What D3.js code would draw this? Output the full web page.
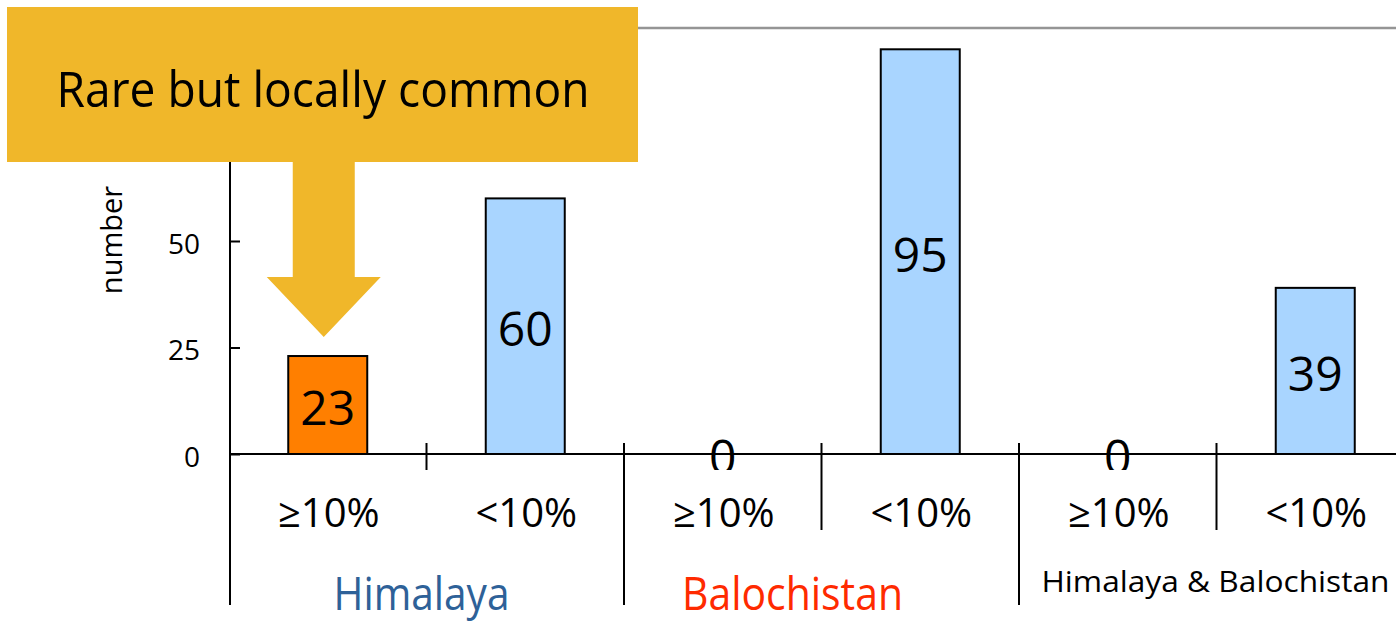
<!DOCTYPE html>
<html>
<head>
<meta charset="utf-8">
<script src="https://cdn.jsdelivr.net/npm/d3@7"></script>
<style>
  body { margin: 0; background: #fff; }
  text { font-family: "Open Sans", sans-serif; }
</style>
</head>
<body>
<div id="vis"></div>
<script>
// chart data
var groups  = ["Himalaya", "Balochistan", "Himalaya & Balochistan"];
var classes = ["≥10%", "<10%"];
var counts  = [23, 60, 0, 95, 0, 39];   // group x class, in order
var yTicks  = [0, 25, 50];              // 75 and 100 sit under the callout box
var yLabel  = "number";
var note    = "Rare but locally common";

var width = 1396, height = 622;

var svg = d3.select("#vis")
	.append("svg")
	.attr("width", width)
	.attr("height", height);

// one row per bar
var rows = [];
groups.forEach(function(g, gi) {
	classes.forEach(function(c, ci) {
		rows.push({group: g, cls: c, key: g + "|" + c, value: counts[gi * classes.length + ci], idx: rows.length});
	});
});

var x = d3.scaleBand()
	.domain(rows.map(function(d) { return d.key; }))
	.range([229, 1414])
	.paddingInner(0.6)
	.paddingOuter(0.3);

var y = d3.scaleLinear()
	.domain([0, 100])
	.range([454, 28]);

var colors = d3.scaleOrdinal()
	.domain(classes)
	.range(["#ff7f00", "#a9d5ff"]);

var x0 = x.range()[0], step = x.step();
var axisX = x0 + 1;

// top frame line (grey)
svg.append("line")
	.attr("x1", axisX).attr("x2", x.range()[1])
	.attr("y1", y(100)).attr("y2", y(100))
	.attr("stroke", "#959595")
	.attr("stroke-width", 2.5);

// bars
svg.append("g")
	.selectAll("rect")
	.data(rows.filter(function(d) { return d.value > 0; }))
	.enter()
	.append("rect")
	.attr("x", function(d) { return x(d.key); })
	.attr("y", function(d) { return y(d.value); })
	.attr("width", x.bandwidth())
	.attr("height", function(d) { return y(0) - y(d.value); })
	.attr("fill", function(d) { return colors(d.cls); })
	.attr("stroke", "#000")
	.attr("stroke-width", 2);

// value labels (clipped just under the axis, as in the original)
svg.append("clipPath").attr("id", "lblclip")
	.append("rect").attr("x", 0).attr("y", 0).attr("width", width).attr("height", 470);

svg.append("g")
	.attr("clip-path", "url(#lblclip)")
	.selectAll("text")
	.data(rows)
	.enter()
	.append("text")
	.attr("x", function(d) { return x(d.key) + x.bandwidth() / 2; })
	.attr("y", function(d) { return (y(d.value) + y(0)) / 2 + 20; })
	.attr("text-anchor", "middle")
	.style("font-size", "48px")
	.style("fill", "#000")
	.text(function(d) { return d.value; });

// y axis: inward ticks
var yAxis = svg.append("g")
	.attr("transform", "translate(" + axisX + ",0)")
	.call(d3.axisLeft(y).tickValues(yTicks).tickSize(-10).tickPadding(30));
yAxis.select(".domain").remove();
yAxis.selectAll(".tick line").attr("stroke", "#000").attr("stroke-width", 2);
yAxis.selectAll(".tick text")
	.attr("dy", null)
	.attr("y", 12)
	.style("font-family", "'Open Sans', sans-serif")
	.style("font-size", "28px")
	.style("fill", "#000");

svg.append("line")
	.attr("x1", axisX).attr("x2", axisX)
	.attr("y1", y(100)).attr("y2", 605)
	.attr("stroke", "#000").attr("stroke-width", 2);

// x axis line
svg.append("line")
	.attr("x1", axisX).attr("x2", x.range()[1])
	.attr("y1", y(0)).attr("y2", y(0))
	.attr("stroke", "#000").attr("stroke-width", 2);

// band boundaries: group separators run long, inner ticks shorter
var bounds = d3.range(1, rows.length);
svg.append("g")
	.selectAll("line")
	.data(bounds)
	.enter()
	.append("line")
	.attr("x1", function(i) { return x0 + i * step; })
	.attr("x2", function(i) { return x0 + i * step; })
	.attr("y1", y(0) - 11)
	.attr("y2", function(i) {
		if (i % classes.length == 0) return 605;
		return i == 1 ? 470 : 530;
	})
	.attr("stroke", "#000").attr("stroke-width", 2);

// class labels
svg.append("g")
	.selectAll("text")
	.data(rows)
	.enter()
	.append("text")
	.attr("x", function(d) { return x(d.key) + x.bandwidth() / 2 + 1; })
	.attr("y", 527)
	.attr("text-anchor", "middle")
	.style("font-size", "40px")
	.style("fill", "#000")
	.text(function(d) { return d.cls; });

// group labels
var groupStyle = [
	{fill: "#2e6198", size: 45, len: 176, dx: -5, y: 610},
	{fill: "#ff2a00", size: 45, len: 221, dx: -29, y: 610},
	{fill: "#000", size: 30, len: 348, dx: -1, y: 592}
];
svg.append("g")
	.selectAll("text")
	.data(groups)
	.enter()
	.append("text")
	.attr("x", function(d, i) { return x0 + (i + 0.5) * step * classes.length + groupStyle[i].dx; })
	.attr("y", function(d, i) { return groupStyle[i].y; })
	.attr("text-anchor", "middle")
	.attr("textLength", function(d, i) { return groupStyle[i].len; })
	.attr("lengthAdjust", "spacingAndGlyphs")
	.style("font-size", function(d, i) { return groupStyle[i].size + "px"; })
	.style("fill", function(d, i) { return groupStyle[i].fill; })
	.text(function(d) { return d; });

// y label
svg.append("text")
	.attr("transform", "translate(122,240) rotate(-90)")
	.attr("text-anchor", "middle")
	.style("font-size", "29px")
	.style("fill", "#000")
	.text(yLabel);

// callout box + arrow
var gold = "#f0b72a";
svg.append("rect")
	.attr("x", 7).attr("y", 7)
	.attr("width", 631).attr("height", 155)
	.attr("fill", gold);

svg.append("text")
	.attr("x", 323).attr("y", 107)
	.attr("text-anchor", "middle")
	.attr("textLength", 533)
	.attr("lengthAdjust", "spacingAndGlyphs")
	.style("font-size", "50px")
	.style("fill", "#000")
	.text(note);

var cx = x(rows[0].key) + x.bandwidth() / 2 - 4;
var arrowPts = [
	[cx - 31, 161], [cx + 31, 161], [cx + 31, 277], [cx + 57, 277],
	[cx, 337], [cx - 57, 277], [cx - 31, 277]
];
svg.append("path")
	.attr("d", d3.line()(arrowPts) + "Z")
	.attr("fill", gold);
</script>
</body>
</html>
